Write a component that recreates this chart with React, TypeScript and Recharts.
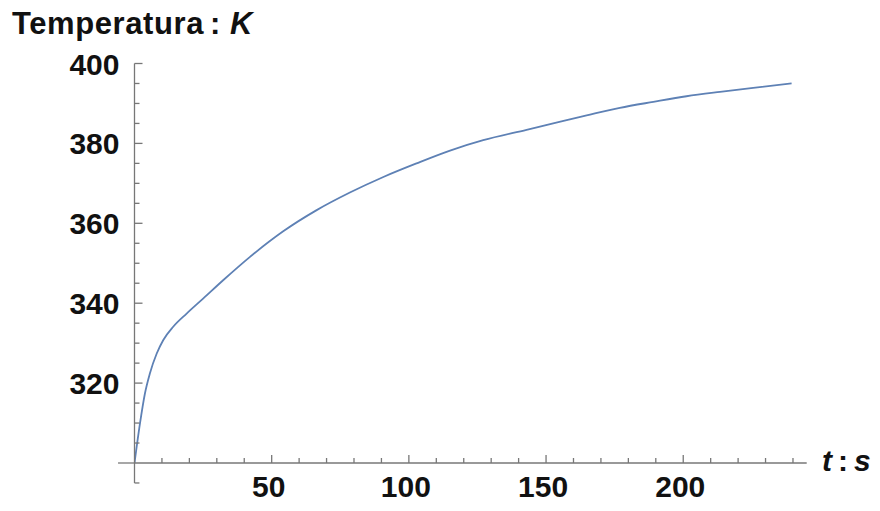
import React from "react";
import { LineChart, Line, XAxis, YAxis, ReferenceLine } from "recharts";

const timeSeconds = [0, 2, 3.8, 5.6, 8.1, 10.5, 14.1, 19, 25.1, 32.4, 42.1, 54.2, 66.4, 78.5, 90.7, 102.8, 115, 127.1, 142.9, 152.6, 164.8, 176.9, 189.1, 201.2, 213.4, 225.5, 239.5];
const temperatureK = [300, 309.9, 317.4, 322.4, 327.4, 330.8, 334.1, 337.4, 341.2, 345.8, 351.6, 358.0, 363.3, 367.7, 371.6, 375.0, 378.2, 380.8, 383.4, 385.0, 387.0, 388.9, 390.4, 391.8, 392.9, 393.9, 395.0];

const xTicks = [10, 20, 30, 40, 50, 60, 70, 80, 90, 100, 110, 120, 130, 140, 150, 160, 170, 180, 190, 200, 210, 220, 230, 240];
const xMajor = [50, 100, 150, 200];
const yTicks = [305, 310, 315, 320, 325, 330, 335, 340, 345, 350, 355, 360, 365, 370, 375, 380, 385, 390, 395, 400];
const yMajor = [320, 340, 360, 380, 400];

const data = timeSeconds.map((t, i) => ({ t, T: temperatureK[i] }));

const AXIS = "#777777";
const FONT = "'Liberation Sans', Arial, sans-serif";

const XTick = (props: any) => {
  const { x, y, payload } = props;
  const major = xMajor.includes(payload.value);
  return (
    <g>
      <line x1={x} y1={y} x2={x} y2={y - (major ? 8 : 5)} stroke={AXIS} strokeWidth={1.3} />
      {major && (
        <text x={x - 3} y={y + 34} textAnchor="middle" fontFamily={FONT} fontWeight="bold" fontSize={30} fill="#111">
          {payload.value}
        </text>
      )}
    </g>
  );
};

const YTick = (props: any) => {
  const { x, y, payload } = props;
  const major = yMajor.includes(payload.value);
  return (
    <g>
      <line x1={x} y1={y} x2={x + (major ? 8 : 5)} y2={y} stroke={AXIS} strokeWidth={1.3} />
      {major && (
        <text x={x - 15} y={y + 11} textAnchor="end" fontFamily={FONT} fontWeight="bold" fontSize={30} fill="#111">
          {payload.value}
        </text>
      )}
    </g>
  );
};

export default function App() {
  return (
    <div style={{ position: "absolute", left: 0, top: 0, width: 880, height: 511, background: "#fff" }}>
      <div
        style={{
          position: "absolute",
          left: 12,
          top: 6,
          fontFamily: FONT,
          fontWeight: "bold",
          fontSize: 31,
          letterSpacing: 0.6,
          color: "#111",
          whiteSpace: "nowrap",
          lineHeight: "36px",
        }}
      >
        Temperatura<span style={{ margin: "0 9px 0 6px" }}>:</span>
        <i>K</i>
      </div>
      <LineChart width={880} height={511} data={data} margin={{ top: 63.5, right: 73.3, left: 14.5, bottom: 8 }}>
        <XAxis
          dataKey="t"
          type="number"
          domain={[0, 245]}
          ticks={xTicks}
          interval={0}
          axisLine={{ stroke: AXIS, strokeWidth: 1.3 }}
          tickLine={false}
          tickSize={0}
          tickMargin={0}
          tick={<XTick />}
          height={40}
          allowDataOverflow
        />
        <YAxis
          type="number"
          domain={[300, 400]}
          ticks={yTicks}
          interval={0}
          axisLine={{ stroke: AXIS, strokeWidth: 1.3 }}
          tickLine={false}
          tickSize={0}
          tickMargin={0}
          tick={<YTick />}
          width={120}
          allowDataOverflow
        />
        <ReferenceLine segment={[{ x: -6, y: 300 }, { x: 0, y: 300 }]} stroke={AXIS} strokeWidth={1.3} ifOverflow="visible" />
        <ReferenceLine segment={[{ x: 0, y: 295 }, { x: 0, y: 300 }]} stroke={AXIS} strokeWidth={1.3} ifOverflow="visible" />
        <ReferenceLine segment={[{ x: 0, y: 295 }, { x: 1.8, y: 295 }]} stroke={AXIS} strokeWidth={1.3} ifOverflow="visible" />
        <Line
          type="monotone"
          dataKey="T"
          stroke="#5e81b5"
          strokeWidth={1.8}
          dot={false}
          isAnimationActive={false}
        />
      </LineChart>
      <div
        style={{
          position: "absolute",
          left: 822,
          top: 443,
          fontFamily: FONT,
          fontWeight: "bold",
          fontSize: 30,
          color: "#111",
          whiteSpace: "nowrap",
          lineHeight: "36px",
        }}
      >
        <i>t</i>
        <span style={{ margin: "0 6px 0 6px" }}>:</span>
        <i>s</i>
      </div>
    </div>
  );
}
